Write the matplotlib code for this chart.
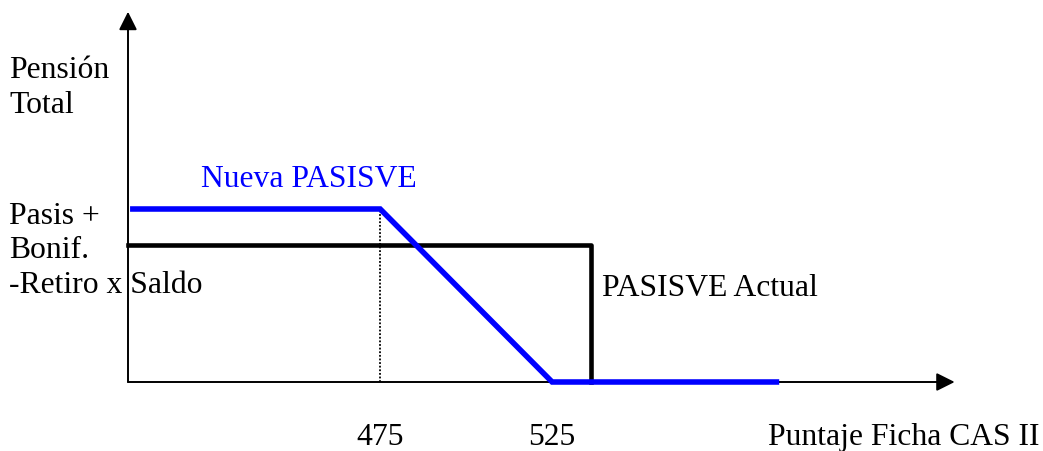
import matplotlib.pyplot as plt

# Scores on the horizontal axis (Puntaje Ficha CAS II)
axis_start = 401.7
axis_end = 642.0
score_low = 475      # new PASISVE begins to fall
score_high = 525     # new PASISVE reaches zero
score_actual = 536.3 # current PASISVE cut-off
score_last = 591.0   # end of drawn blue line

# Pension levels (relative units)
level_new = 1.0
level_actual = 0.79
axis_top = 2.14

# Series
nueva_x = [axis_start + 0.6, score_low, score_high, score_last]
nueva_y = [level_new, level_new, 0, 0]
actual_x = [axis_start, score_actual, score_actual]
actual_y = [level_actual, level_actual, 0]

tick_values = [score_low, score_high]
tick_labels = ['475', '525']

W, H = 1043, 451
fig = plt.figure(figsize=(W / 100, H / 100), dpi=100)
ax = fig.add_axes([0, 0, 1, 1])
ax.set_xlim(axis_start - 128 / 3.44, axis_start + (W - 128) / 3.44)
ax.set_ylim(-(H - 382) / 173, 382 / 173)
ax.axis('off')

font = dict(family='Liberation Serif', fontsize=22.8)

# Axes with arrow heads
arrow = dict(arrowstyle='-|>,head_length=1.0,head_width=0.5', mutation_scale=11,
             color='black', lw=1.4, shrinkA=0, shrinkB=0)
ax.annotate('', xy=(axis_end, 0), xytext=(axis_start, 0), arrowprops=arrow)
ax.annotate('', xy=(axis_start, axis_top), xytext=(axis_start, 0), arrowprops=arrow)

# Dotted guide at 475
ax.plot([score_low, score_low], [0, level_new], color='black', lw=1.3, linestyle=(0, (1, 1)))

# Current PASISVE (black) and new PASISVE (blue)
ax.plot(actual_x, actual_y, color='black', lw=3.3, solid_joinstyle='round', zorder=3)
ax.plot(nueva_x, nueva_y, color='#0000ff', lw=4.0, solid_joinstyle='miter',
        solid_capstyle='butt', zorder=4)

# Text in pixel positions (left, baseline)
def px_text(x, y, s, **kw):
    fig.text(x / W, 1 - y / H, s, va='baseline', **font, **kw)

px_text(9, 78, 'Pensión')
px_text(9, 113, 'Total')
px_text(9, 224, 'Pasis +')
px_text(9, 258, 'Bonif.')
px_text(9, 293, '-Retiro x Saldo')
px_text(201, 187, 'Nueva PASISVE', color='#0000ff')
px_text(602, 296, 'PASISVE Actual')
px_text(768, 445, 'Puntaje Ficha CAS II')

for v, lab in zip(tick_values, tick_labels):
    ax.text(v, -(445 - 382) / 173, lab, ha='center', va='baseline', **font)

plt.savefig('out.png', dpi=100)
